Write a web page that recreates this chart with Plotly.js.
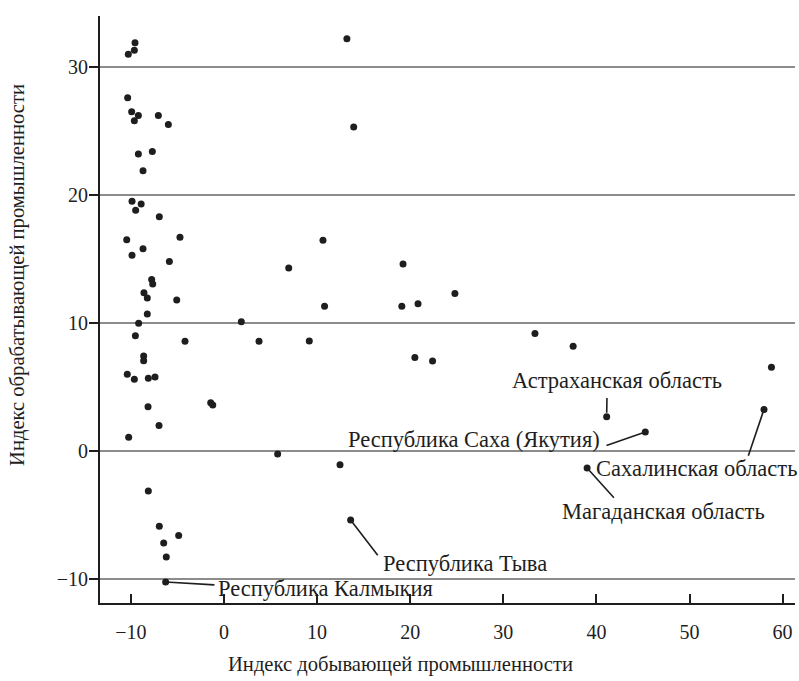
<!DOCTYPE html>
<html>
<head>
<meta charset="utf-8">
<script src="https://cdn.plot.ly/plotly-3.0.1.min.js"></script>
<style>html,body{margin:0;padding:0;background:#fff;}</style>
</head>
<body>
<div id="chart" style="width:799px;height:681px;"></div>
<script>
// Index of extractive industry (x) and manufacturing industry (y), unlabeled regions
const extractX = [-9.56,-9.63,-10.28,-10.35,-9.92,-9.2,-9.63,-7.05,-5.98,-9.2,-7.7,-8.7,-9.88,-8.9,-9.49,-6.95,-10.45,-4.73,-8.7,-9.88,-5.87,-7.77,-7.66,-8.6,-8.24,-5.08,-8.24,-9.17,1.86,-9.52,-4.19,3.76,-8.63,-8.63,-10.39,-9.63,-8.13,-7.41,-8.16,-1.43,-1.21,-6.98,-10.24,-8.13,-6.95,-4.87,-6.48,-6.2,13.2,13.93,10.63,6.95,19.23,24.8,10.8,19.1,20.84,9.16,20.5,22.4,5.76,12.46,33.4,37.5,58.8];
const manufY = [31.9,31.3,31.0,27.6,26.5,26.2,25.8,26.2,25.5,23.2,23.4,21.9,19.5,19.3,18.8,18.3,16.5,16.7,15.8,15.3,14.8,13.4,13.05,12.37,11.95,11.8,10.7,9.97,10.1,9.0,8.57,8.57,7.42,7.05,6.0,5.6,5.68,5.78,3.46,3.77,3.6,2.0,1.07,-3.13,-5.88,-6.6,-7.19,-8.28,32.2,25.3,16.46,14.3,14.6,12.3,11.3,11.3,11.5,8.6,7.3,7.03,-0.23,-1.07,9.17,8.18,6.54];

// Labeled regions
const labelNames = ["Республика Калмыкия","Республика Тыва","Республика Саха (Якутия)","Астраханская область","Магаданская область","Сахалинская область"];
const labelX = [-6.27, 13.6, 45.25, 41.1, 39.0, 58.0];
const labelY = [-10.23, -5.4, 1.48, 2.68, -1.33, 3.25];

const xTicks = [-10, 0, 10, 20, 30, 40, 50, 60];
const yTicks = [-10, 0, 10, 20, 30];
const xTitle = "Индекс добывающей промышленности";
const yTitle = "Индекс обрабатывающей промышленности";

// Layout offsets (pixels) for label text centres and leader-line ends
const textOffsets = [[160,6.5],[114,43.7],[-171,7.5],[10.8,-36.2],[76.3,43],[-68,59.4]];
const lineEnds = [[49.3,3],[27.6,35.7],[-39.3,13.7],[0.3,-19.7],[27.3,30.3],[-16,47.4]];
const standoffs = [0,0,0,4,0,0];

const FONT = "Liberation Serif, Times New Roman, serif";
const INK = "#1e1e1e";

const markerStyle = {size: 7, color: INK};
const traces = [
  {type:'scatter', mode:'markers', x: extractX, y: manufY, marker: markerStyle, hoverinfo:'x+y', showlegend:false},
  {type:'scatter', mode:'markers', x: labelX, y: labelY, text: labelNames, marker: markerStyle, hoverinfo:'text+x+y', showlegend:false}
];

const annotations = [];
labelNames.forEach((name, i) => {
  annotations.push({
    x: labelX[i], y: labelY[i], xref:'x', yref:'y',
    text: ' ', font:{size:1, color:'rgba(0,0,0,0)'},
    showarrow:true, arrowhead:0, arrowwidth:1.6, arrowcolor: INK,
    ax: lineEnds[i][0], ay: lineEnds[i][1], axref:'pixel', ayref:'pixel',
    standoff: standoffs[i], borderpad:0
  });
  annotations.push({
    x: labelX[i], y: labelY[i], xref:'x', yref:'y',
    text: name, showarrow:false, xanchor:'center', yanchor:'middle',
    xshift: textOffsets[i][0], yshift: -textOffsets[i][1],
    font:{family: FONT, size: 22.5, color: INK}
  });
});
annotations.push({
  text: xTitle, xref:'paper', yref:'paper', x: 0.4317, y: -0.1056,
  xanchor:'center', yanchor:'middle', showarrow:false,
  font:{family: FONT, size: 20.6, color: INK}
});
annotations.push({
  text: yTitle, xref:'paper', yref:'paper', x: -0.118, y: 0.5588,
  xanchor:'center', yanchor:'middle', showarrow:false, textangle:-90,
  font:{family: FONT, size: 20.6, color: INK}
});

const layout = {
  width: 799, height: 681,
  margin: {l:100, r:4, t:16, b:78, pad:0},
  paper_bgcolor:'#fff', plot_bgcolor:'#fff',
  font: {family: FONT, size: 20, color: INK},
  xaxis: {
    range: [-13.32, 61.33], tickmode:'array', tickvals: xTicks, ticktext: xTicks.map(v => v < 0 ? '−' + Math.abs(v) : String(v)),
    ticks:'inside', ticklen: 9, tickwidth: 2, tickcolor: INK, ticklabelstandoff: 10,
    showline:true, linewidth:2, linecolor: INK, showgrid:false, zeroline:false,
    tickfont:{family: FONT, size: 20, color: INK}, fixedrange:true
  },
  yaxis: {
    range: [-11.875, 33.98], tickmode:'array', tickvals: yTicks, ticktext: yTicks.map(v => v < 0 ? '−' + Math.abs(v) : String(v)),
    ticks:'outside', ticklen: 9, tickwidth: 2, tickcolor: INK, ticklabelstandoff: -3,
    showline:true, linewidth:2, linecolor: INK,
    showgrid:true, gridcolor:'#8c8c8c', gridwidth:2, zeroline:false,
    tickfont:{family: FONT, size: 20, color: INK}, fixedrange:true
  },
  annotations: annotations
};

Plotly.newPlot('chart', traces, layout, {displayModeBar:false, staticPlot:true});
</script>
</body>
</html>
